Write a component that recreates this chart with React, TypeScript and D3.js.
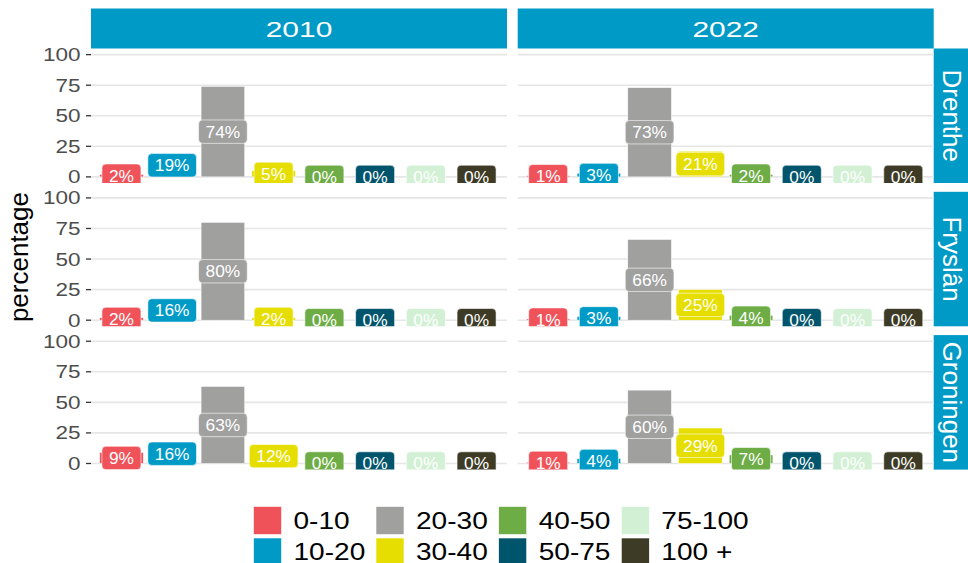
import React from 'react';
import * as d3 from 'd3';

const CATEGORIES = ['0-10', '10-20', '20-30', '30-40', '40-50', '50-75', '75-100', '100 +'];
const COLORS = ['#F0525A', '#009AC7', '#A0A09F', '#E6DE00', '#6EAC46', '#00546B', '#D2F0D4', '#3D3B25'];
const YEARS = ['2010', '2022'];
const PROVINCES = ['Drenthe', 'Fryslân', 'Groningen'];
const Y_TICKS = [0, 25, 50, 75, 100];

const DRENTHE_2010 = [2, 19, 74, 5, 0, 0, 0, 0];
const DRENTHE_2022 = [1, 3, 73, 21, 2, 0, 0, 0];
const FRYSLAN_2010 = [2, 16, 80, 2, 0, 0, 0, 0];
const FRYSLAN_2022 = [1, 3, 66, 25, 4, 0, 0, 0];
const GRONINGEN_2010 = [9, 16, 63, 12, 0, 0, 0, 0];
const GRONINGEN_2022 = [1, 4, 60, 29, 7, 0, 0, 0];

const DATA: number[][][] = [
  [DRENTHE_2010, DRENTHE_2022],
  [FRYSLAN_2010, FRYSLAN_2022],
  [GRONINGEN_2010, GRONINGEN_2022],
];

const FONT = '"Liberation Sans", Arial, sans-serif';
const STRIP = '#009AC7';

const W = 968;
const H = 563;
const COL_X = [91, 517.7];
const PANEL_W = 416;
const ROW_Y = [48.5, 191.8, 335.1];
const PANEL_H = 134.5;
const STRIP_H = 40;

let _ctx: CanvasRenderingContext2D | null = null;
function measure(t: string, size: number) {
  if (!_ctx) _ctx = document.createElement('canvas').getContext('2d');
  if (!_ctx) return t.length * size * 0.55;
  _ctx.font = `${size}px "Liberation Sans"`;
  return _ctx.measureText(t).width;
}

const LABEL_SIZE = 16.5;
const LABEL_SX = 1.05;
const LABEL_PAD = 7;
const LABEL_H = 23.4;

function Panel({ r, c }: { r: number; c: number }) {
  const x0 = COL_X[c];
  const y0 = ROW_Y[r];
  const x = d3.scaleBand<string>().domain(CATEGORIES).range([x0, x0 + PANEL_W]).paddingInner(0.14).paddingOuter(0.17);
  const y = d3.scaleLinear().domain([-5, 105]).range([y0 + PANEL_H, y0]);
  const values = DATA[r][c];
  const id = `clip-${r}-${c}`;
  return (
    <g>
      <defs>
        <clipPath id={id}>
          <rect x={x0} y={y0} width={PANEL_W} height={PANEL_H} />
        </clipPath>
      </defs>
      {Y_TICKS.map((t) => (
        <line key={t} x1={x0} x2={x0 + PANEL_W} y1={y(t)} y2={y(t)} stroke="#E6E6E6" strokeWidth={1.6} />
      ))}
      <g clipPath={`url(#${id})`}>
        {values.map((v, i) => (
          <rect
            key={'b' + i}
            x={x(CATEGORIES[i])!}
            width={x.bandwidth()}
            y={y(v)}
            height={y(0) - y(v)}
            fill={COLORS[i]}
            stroke="#FFFFFF"
            strokeWidth={0.5}
          />
        ))}
        {values.map((v, i) => {
          const txt = `${v}%`;
          const tw = measure(txt, LABEL_SIZE) * LABEL_SX;
          const lw = tw + 2 * LABEL_PAD;
          const cx = x(CATEGORIES[i])! + x.bandwidth() / 2;
          const cy = y(v / 2);
          return (
            <g key={'l' + i}>
              <rect
                x={cx - lw / 2}
                y={cy - LABEL_H / 2}
                width={lw}
                height={LABEL_H}
                rx={4}
                ry={4}
                fill={COLORS[i]}
                stroke="#FFFFFF"
                strokeWidth={0.6}
              />
              <text
                transform={`translate(${cx},${cy + 6}) scale(${LABEL_SX},1)`}
                textAnchor="middle"
                fontFamily={FONT}
                fontSize={LABEL_SIZE}
                fill="#FFFFFF"
              >
                {txt}
              </text>
            </g>
          );
        })}
      </g>
    </g>
  );
}

export default function App() {
  const legendColX = [253.5, 376, 498.7, 621.3];
  const legendRowY = [506.5, 538];
  return (
    <svg
      width={W}
      height={H}
      style={{ position: 'absolute', left: 0, top: 0, background: '#FFFFFF' }}
      xmlns="http://www.w3.org/2000/svg"
    >
      <rect x={0} y={0} width={W} height={H} fill="#FFFFFF" />
      {/* top strips */}
      {YEARS.map((yr, c) => (
        <g key={yr}>
          <rect x={COL_X[c]} y={ROW_Y[0] - STRIP_H} width={PANEL_W} height={STRIP_H} fill={STRIP} />
          <text
            transform={`translate(${COL_X[c] + PANEL_W / 2},${ROW_Y[0] - STRIP_H + 28.8}) scale(1.33,1)`}
            textAnchor="middle"
            fontFamily={FONT}
            fontSize={22.5}
            fill="#FFFFFF"
          >
            {yr}
          </text>
        </g>
      ))}
      {/* right strips */}
      {PROVINCES.map((p, r) => (
        <g key={p}>
          <rect x={COL_X[1] + PANEL_W} y={ROW_Y[r]} width={STRIP_H} height={PANEL_H} fill={STRIP} />
          <text
            transform={`translate(${COL_X[1] + PANEL_W + 9.5},${ROW_Y[r] + PANEL_H / 2}) rotate(90)`}
            textAnchor="middle"
            fontFamily={FONT}
            fontSize={26}
            fill="#FFFFFF"
          >
            {p}
          </text>
        </g>
      ))}
      {/* panels */}
      {PROVINCES.map((p, r) => YEARS.map((yr, c) => <Panel key={p + yr} r={r} c={c} />))}
      {/* y axes */}
      {PROVINCES.map((p, r) => {
        const y = d3.scaleLinear().domain([-5, 105]).range([ROW_Y[r] + PANEL_H, ROW_Y[r]]);
        return (
          <g key={'ax' + p}>
            {Y_TICKS.map((t) => (
              <g key={t}>
                <line x1={86} x2={COL_X[0]} y1={y(t)} y2={y(t)} stroke="#333333" strokeWidth={1.3} />
                <text
                  transform={`translate(80.5,${y(t) + 6.5}) scale(1.25,1)`}
                  textAnchor="end"
                  fontFamily={FONT}
                  fontSize={18}
                  fill="#4D4D4D"
                >
                  {t}
                </text>
              </g>
            ))}
          </g>
        );
      })}
      {/* y title */}
      <text
        transform={`translate(28,${(ROW_Y[0] + ROW_Y[2] + PANEL_H) / 2 - 2}) rotate(-90)`}
        textAnchor="middle"
        fontFamily={FONT}
        fontSize={26}
        fill="#000000"
      >
        percentage
      </text>
      {/* legend */}
      {CATEGORIES.map((cat, i) => {
        const col = Math.floor(i / 2);
        const row = i % 2;
        const kx = legendColX[col];
        const ky = legendRowY[row];
        return (
          <g key={cat}>
            <rect x={kx} y={ky} width={28} height={28} fill={COLORS[i]} stroke="#FFFFFF" strokeWidth={0.6} />
            <text
              transform={`translate(${kx + 40},${ky + 22.3}) scale(1.22,1)`}
              fontFamily={FONT}
              fontSize={23}
              fill="#000000"
            >
              {cat}
            </text>
          </g>
        );
      })}
    </svg>
  );
}
